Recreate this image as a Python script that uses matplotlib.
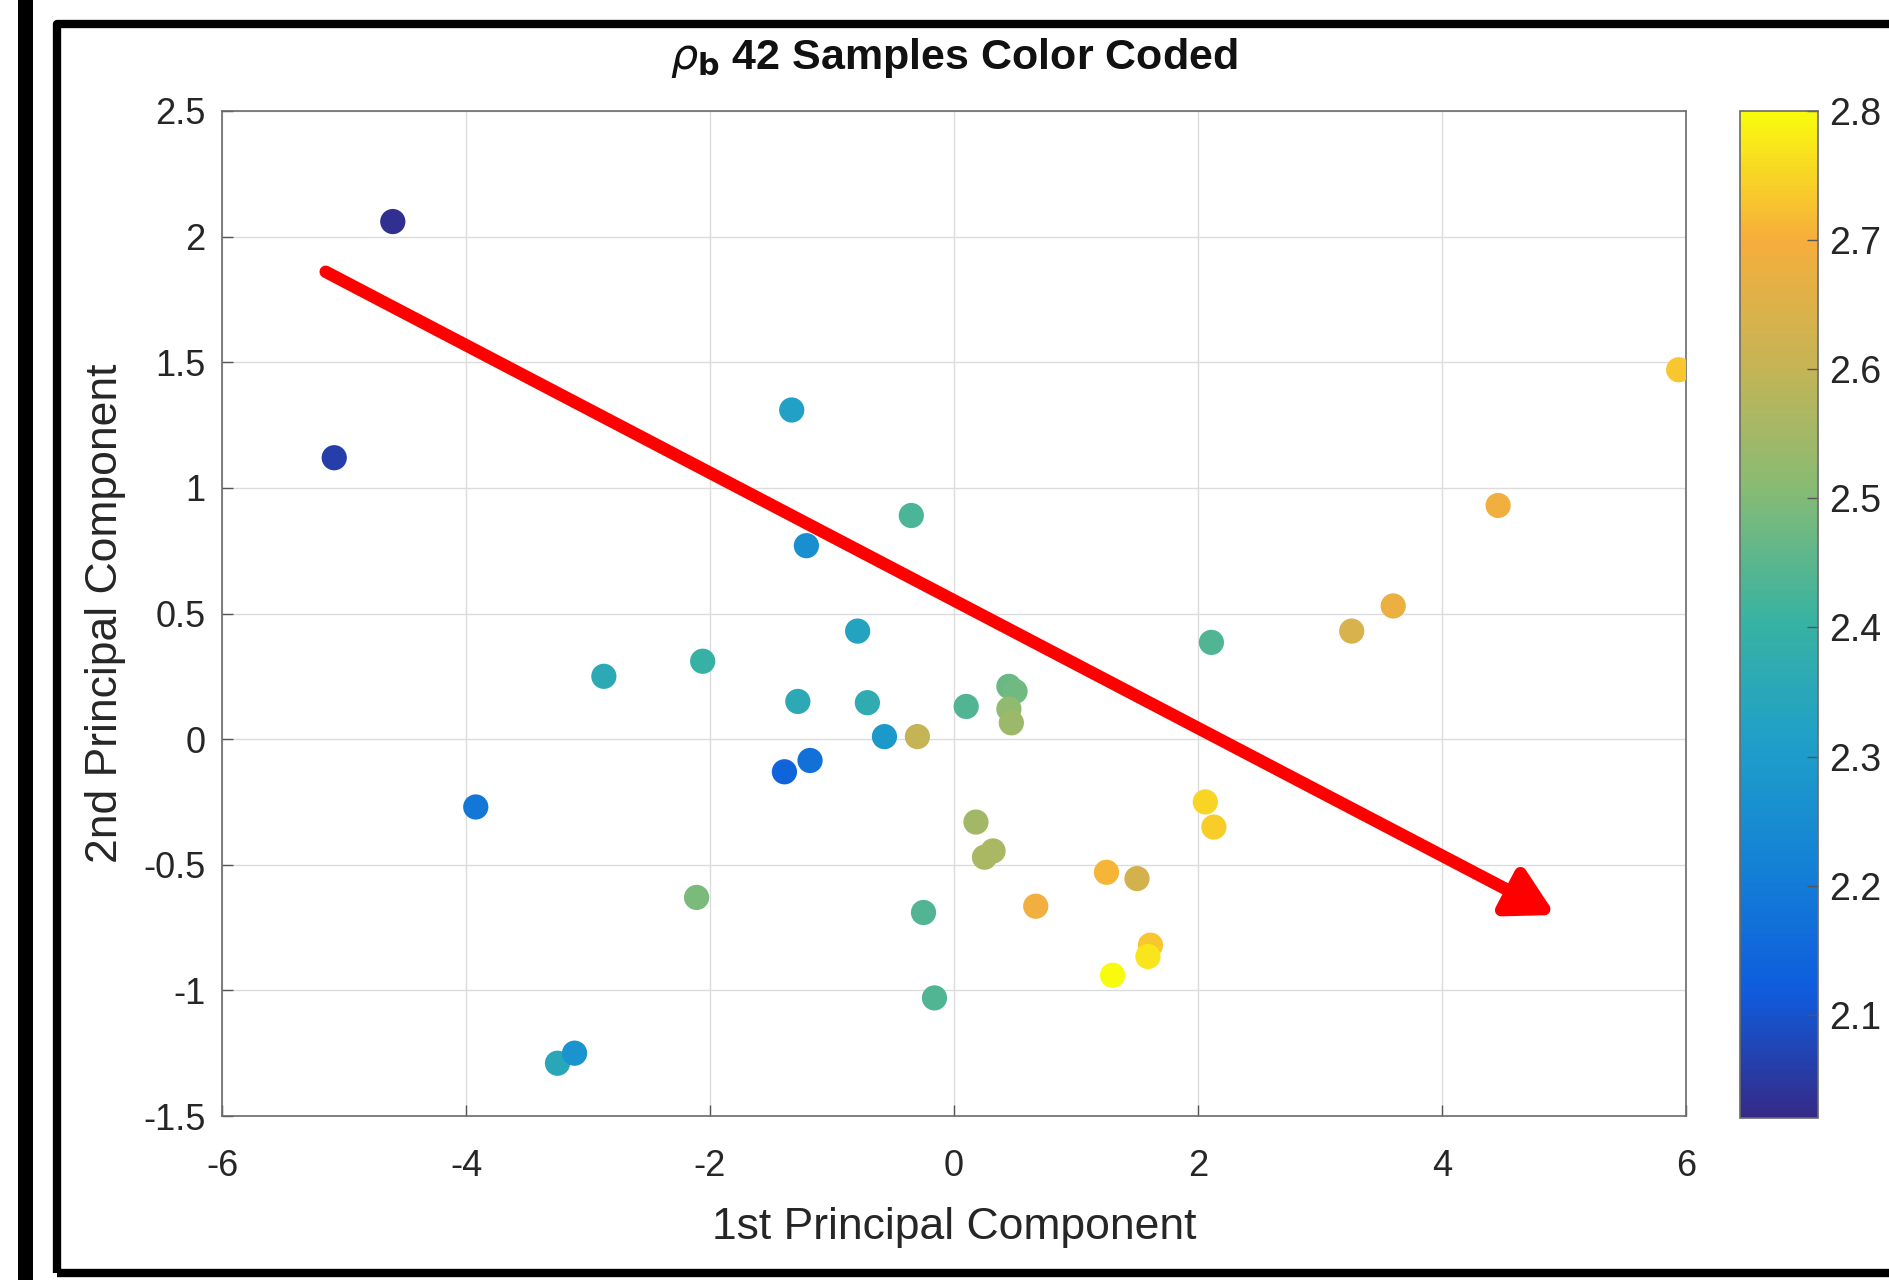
import numpy as np
import matplotlib
matplotlib.use("Agg")
import matplotlib.pyplot as plt
from matplotlib.colors import LinearSegmentedColormap, Normalize
from matplotlib.patches import Rectangle

# ============================================================
#  DATA
# ============================================================
pc1 = [-4.60, -5.08, -3.92, -3.25, -3.11, -2.87, -2.06, -2.11, -1.33, -1.21,
       -1.28, -1.39, -1.18, -0.79, -0.71, -0.57, -0.35, -0.30, -0.25, -0.16,
       0.10, 0.18, 0.25, 0.32, 0.45, 0.50, 0.45, 0.47, 0.67, 1.25,
       1.50, 1.30, 1.61, 1.59, 2.06, 2.13, 2.11, 3.26, 3.60, 4.46, 5.94]
pc2 = [2.06, 1.12, -0.27, -1.29, -1.25, 0.25, 0.31, -0.63, 1.31, 0.77,
       0.15, -0.13, -0.085, 0.43, 0.145, 0.01, 0.89, 0.01, -0.69, -1.03,
       0.13, -0.33, -0.47, -0.445, 0.21, 0.19, 0.12, 0.065, -0.665, -0.53,
       -0.555, -0.94, -0.82, -0.865, -0.25, -0.35, 0.385, 0.43, 0.53, 0.93, 1.47]
rho_b = [2.03, 2.06, 2.19, 2.35, 2.27, 2.36, 2.40, 2.49, 2.32, 2.26,
         2.36, 2.14, 2.17, 2.33, 2.37, 2.29, 2.43, 2.60, 2.44, 2.44,
         2.44, 2.55, 2.56, 2.56, 2.47, 2.48, 2.52, 2.54, 2.69, 2.71,
         2.63, 2.80, 2.73, 2.77, 2.75, 2.74, 2.44, 2.64, 2.68, 2.69, 2.73]

x_ticks = [-6, -4, -2, 0, 2, 4, 6]
y_ticks = [-1.5, -1, -0.5, 0, 0.5, 1, 1.5, 2, 2.5]
cbar_ticks = [2.1, 2.2, 2.3, 2.4, 2.5, 2.6, 2.7, 2.8]
clim = (2.02, 2.8)

# hand-drawn red trend arrow (data coords)
arrow_start = (-5.15, 1.86)
arrow_end = (4.93, -0.70)

# parula-like colormap (MATLAB default)
parula_stops = ['#352a87', '#0f5cdd', '#1481d6', '#1fa0c8', '#3ab3a0',
                '#87bb74', '#c6b455', '#f7ae3c', '#f9fb0e']
parula = LinearSegmentedColormap.from_list("parula", parula_stops)

# ============================================================
#  FIGURE
# ============================================================
plt.rcParams['font.family'] = ['Liberation Sans', 'DejaVu Sans']
W, H = 1890, 1280
fig = plt.figure(figsize=(W / 100, H / 100), dpi=100)
fig.patch.set_facecolor("white")

ax = fig.add_axes([222 / W, 1 - 1116 / H, (1686 - 222) / W, (1116 - 111) / H])
cax = fig.add_axes([1740 / W, 1 - 1118 / H, (1818 - 1740) / W, (1118 - 111) / H])

norm = Normalize(*clim)
sc = ax.scatter(pc1, pc2, c=rho_b, cmap=parula, norm=norm, s=330,
                edgecolors='none', zorder=3)

ax.set_xlim(-6, 6)
ax.set_ylim(-1.5, 2.5)
ax.set_xticks(x_ticks)
ax.set_yticks(y_ticks)
ax.set_xticklabels([f"{t:g}" for t in x_ticks])
ax.set_yticklabels([f"{t:g}" for t in y_ticks])
ax.grid(True, color='#dcdcdc', lw=1.0, zorder=0)
ax.tick_params(direction='in', length=8, width=1, colors='#555555',
               labelcolor='#262626', labelsize=26, top=False, right=False)
ax.tick_params(axis='x', pad=24)
ax.tick_params(axis='y', pad=12)
for sp in ax.spines.values():
    sp.set_color('#6a6a6a')
    sp.set_linewidth(1.2)

ax.set_xlabel("1st Principal Component", fontsize=32, color='#262626', labelpad=16)
ax.set_ylabel("2nd Principal Component", fontsize=32, color='#262626', labelpad=12)
ax.set_title(r"$\rho_{\mathbf{b}}$ 42 Samples Color Coded", fontsize=31,
             fontweight='bold', color='#111111', pad=30)

ax.annotate("", xy=arrow_end, xytext=arrow_start,
            arrowprops=dict(arrowstyle='-|>,head_length=0.9,head_width=0.5',
                            color='#ff0000', lw=9, mutation_scale=30,
                            shrinkA=0, shrinkB=0),
            zorder=5)

cb = fig.colorbar(sc, cax=cax, ticks=cbar_ticks)
cb.ax.tick_params(direction='in', length=8, width=1, colors='#555555',
                  labelcolor='#262626', labelsize=27, pad=8)
cb.ax.set_yticklabels([f"{t:.1f}" for t in cbar_ticks])
cb.outline.set_edgecolor('#6a6a6a')
cb.outline.set_linewidth(1.2)

# ============================================================
#  BLACK FRAME AROUND THE SCREENSHOT
# ============================================================
fig.add_artist(Rectangle((18 / W, 0), 15 / W, 1, transform=fig.transFigure,
                         facecolor='black', edgecolor='none', clip_on=False))
fig.add_artist(Rectangle((57 / W, 1 - 1273 / H), (1920 - 57) / W, (1273 - 24) / H,
                         transform=fig.transFigure, fill=False, edgecolor='black',
                         lw=6, joinstyle='round', clip_on=False))

fig.savefig("out.png", dpi=100, facecolor="white")
